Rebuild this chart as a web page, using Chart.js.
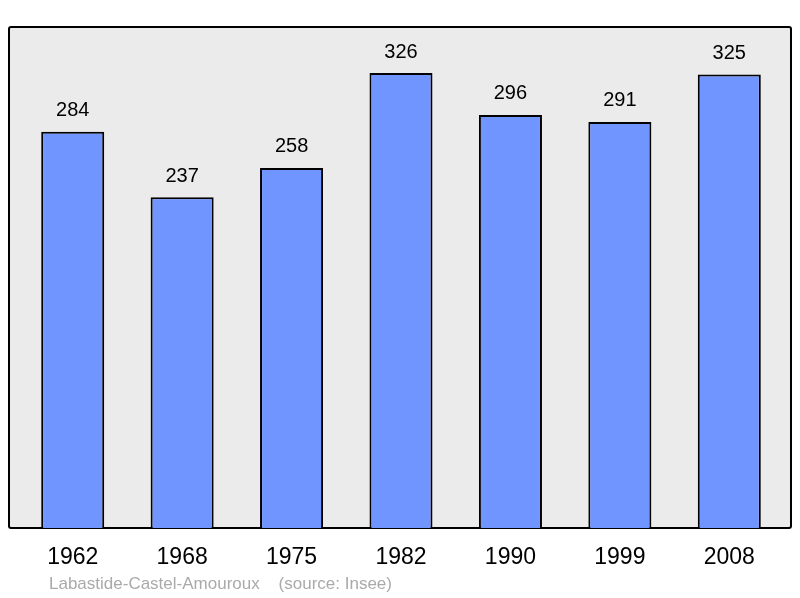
<!DOCTYPE html>
<html><head><meta charset="utf-8">
<script src="https://cdn.jsdelivr.net/npm/chart.js@4"></script>
<style>html,body{margin:0;padding:0;background:#fff}#w{width:800px;height:598px}</style>
</head><body><div id="w"><canvas id="c"></canvas></div>
<script>
const years = ["1962","1968","1975","1982","1990","1999","2008"];
const population = [284,237,258,326,296,291,325];
const footnote = "Labastide-Castel-Amouroux    (source: Insee)";

const framePlugin = {
  id:'frame',
  beforeDraw(chart){
    const ctx=chart.ctx;
    ctx.save();
    ctx.fillStyle='#ebebeb';
    ctx.strokeStyle='#000';
    ctx.lineWidth=2;
    ctx.beginPath();
    ctx.roundRect(9,27,782,501,2);
    ctx.fill();ctx.stroke();
    ctx.restore();
  },
  afterDatasetsDraw(chart){
    const ctx=chart.ctx;
    const meta=chart.getDatasetMeta(0);
    ctx.save();
    ctx.fillStyle='#000';
    ctx.font='20px "Liberation Sans", Arial, sans-serif';
    ctx.textAlign='center';ctx.textBaseline='middle';
    meta.data.forEach((b,i)=>{ctx.fillText(String(population[i]),b.x,b.y-21);});
    ctx.fillStyle='#aaaaaa';
    ctx.font='17px "Liberation Sans", Arial, sans-serif';
    ctx.textAlign='left';
    ctx.fillText(footnote,49,584);
    ctx.restore();
  }
};

new Chart(document.getElementById('c'),{
  type:'bar',
  data:{labels:years,datasets:[{data:population,backgroundColor:'#7095ff',borderColor:'#000',borderWidth:2,barPercentage:0.576,categoryPercentage:1}]},
  options:{
    responsive:true,maintainAspectRatio:false,animation:false,
    layout:{padding:{left:18,right:16,top:27,bottom:0}},
    plugins:{legend:{display:false},tooltip:{enabled:false}},
    scales:{
      x:{grid:{display:false},border:{display:false},
         ticks:{color:'#000',font:{size:23,family:'"Liberation Sans", Arial, sans-serif'},padding:8},
         afterFit(s){s.height=70;}},
      y:{display:false,min:0,max:359}
    }
  },
  plugins:[framePlugin]
});
</script></body></html>
